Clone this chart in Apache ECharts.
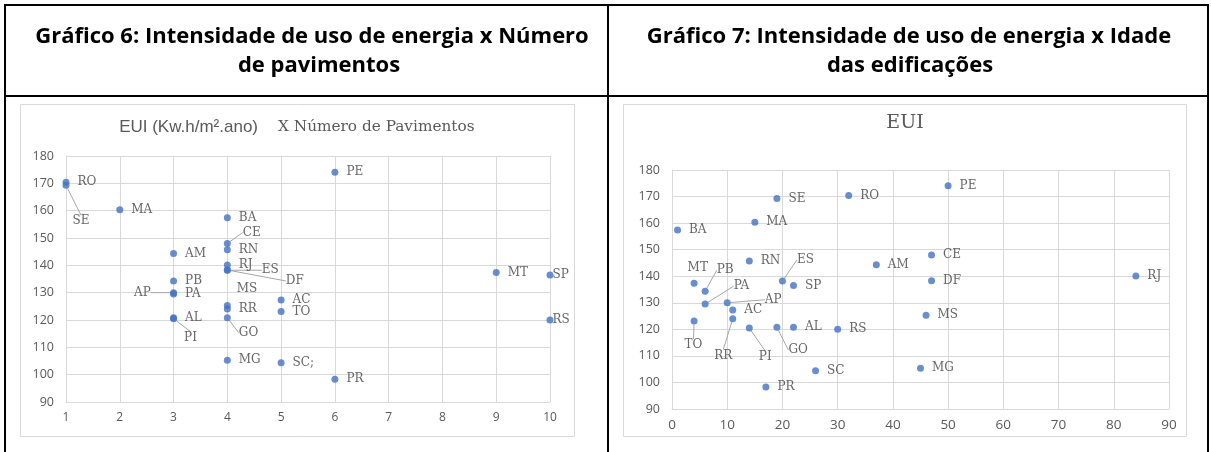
<!DOCTYPE html>
<html><head><meta charset="utf-8">
<script src="https://cdn.jsdelivr.net/npm/echarts@6/dist/echarts.min.js"></script>
<style>html,body{margin:0;padding:0;background:#fff}#c{width:1211px;height:452px}</style>
</head><body><div id="c"></div>
<script>
// ---- data ----
const states     = ['RO','SE','MA','BA','CE','RN','AM','RJ','ES','DF','PB','PA','AP','MS','RR','AC','TO','AL','PI','GO','MG','SC','PE','PR','MT','SP','RS'];
const pavimentos = [1, 1, 2, 4, 4, 4, 3, 4, 4, 4, 3, 3, 3, 4, 4, 5, 5, 3, 3, 4, 4, 5, 6, 6, 9, 10, 10];
const idade      = [32, 19, 15, 1, 47, 14, 37, 84, 20, 47, 6, 6, 10, 46, 11, 11, 4, 22, 14, 19, 45, 26, 50, 17, 4, 22, 30];
const eui        = [170.4, 169.3, 160.3, 157.4, 148, 145.7, 144.3, 140.1, 138.2, 138.3, 134.3, 129.5, 130, 125.3, 124, 127.3, 123.1, 120.8, 120.5, 120.8, 105.3, 104.4, 174.1, 98.3, 137.4, 136.5, 120];
const chart6LabelText = {SC: 'SC;'};
const header6 = ['Gráfico 6: Intensidade de uso de energia x Número', 'de pavimentos'];
const header7 = ['Gráfico 7: Intensidade de uso de energia x Idade', 'das edificações'];
const title6a = 'EUI (Kw.h/m².ano)';
const title6b = 'X Número de Pavimentos';
const title7 = 'EUI';

// ---- label styling (pixel offsets of the labels, leader lines) ----
const off6 = {SE:[-5,36], CE:[4,-11], ES:[23,0], DF:[47,11], AP:[-51,0], MS:[-2,-17], PI:[-1,19], GO:[0,15], SP:[-9,0], RS:[-9,0]};
const lead6 = ['SE','CE','ES','DF','AP','PI','GO'];
const off7 = {ES:[3,-21], MT:[-18,-15], PB:[0,-21], PA:[17,-18], AP:[26,-3], RR:[-30,37], TO:[-21,24], PI:[-2,29], GO:[0,23]};
const lead7 = ['ES','PB','PA','AP','RR','TO','PI','GO'];

const BLUE = '#4472c4', GRID = '#d9d9d9', TXT = '#595959', LBL = '#404040';
const HFONT = 'bold 22px "Open Sans"';

function makeData(xs, leads, textMap) {
  return states.map((s, i) => ({
    value: [xs[i], eui[i]],
    name: (textMap && textMap[s]) || s,
    labelLine: {show: leads.indexOf(s) >= 0}
  }));
}
function layoutFn(offs) {
  return function (p) {
    const o = offs[states[p.dataIndex]];
    return o ? {dx: o[0], dy: o[1]} : {};
  };
}

const axisCommon = {
  axisLine: {show: true, lineStyle: {color: GRID}},
  axisTick: {show: false},
  splitLine: {show: true, lineStyle: {color: GRID, width: 1}}
};

const chart = echarts.init(document.getElementById('c'), null, {renderer: 'canvas'});
const seriesLabel = {show: true, position: 'right', distance: 8, formatter: '{b}',
  fontFamily: 'DejaVu Serif', fontSize: 12, color: LBL};
const seriesLabelLine = {lineStyle: {color: '#a6a6a6', width: 1}};

chart.setOption({
  animation: false,
  graphic: [
    // table borders
    {type: 'rect', shape: {x: 4, y: 4, width: 1205, height: 2}, style: {fill: '#000'}},
    {type: 'rect', shape: {x: 4, y: 95, width: 1205, height: 2}, style: {fill: '#000'}},
    {type: 'rect', shape: {x: 4, y: 4, width: 2, height: 448}, style: {fill: '#000'}},
    {type: 'rect', shape: {x: 607, y: 4, width: 2, height: 448}, style: {fill: '#000'}},
    {type: 'rect', shape: {x: 1207, y: 4, width: 2, height: 448}, style: {fill: '#000'}},
    // chart boxes
    {type: 'rect', shape: {x: 20.5, y: 104.5, width: 554, height: 332}, style: {fill: 'none', stroke: GRID, lineWidth: 1}},
    {type: 'rect', shape: {x: 623.5, y: 104.5, width: 563, height: 332}, style: {fill: 'none', stroke: GRID, lineWidth: 1}},
    // headers
    {type: 'text', x: 312, y: 37, style: {text: header6[0], font: HFONT, fill: '#000', textAlign: 'center', textVerticalAlign: 'middle'}},
    {type: 'text', x: 319, y: 66, style: {text: header6[1], font: HFONT, fill: '#000', textAlign: 'center', textVerticalAlign: 'middle'}},
    {type: 'text', x: 909, y: 37, style: {text: header7[0], font: HFONT, fill: '#000', textAlign: 'center', textVerticalAlign: 'middle'}},
    {type: 'text', x: 910, y: 66, style: {text: header7[1], font: HFONT, fill: '#000', textAlign: 'center', textVerticalAlign: 'middle'}},
    // chart titles
    {type: 'text', x: 258, y: 127, style: {text: title6a, font: '17px "Liberation Sans"', fill: TXT, textAlign: 'right', textVerticalAlign: 'middle'}},
    {type: 'text', x: 278, y: 127, style: {text: title6b, font: '15.3px "DejaVu Serif"', fill: TXT, textAlign: 'left', textVerticalAlign: 'middle'}},
    {type: 'text', x: 905, y: 123, style: {text: title7, font: '19px "DejaVu Serif"', fill: TXT, textAlign: 'center', textVerticalAlign: 'middle'}}
  ],
  grid: [
    {left: 66, top: 156, width: 484, height: 246},
    {left: 672, top: 170, width: 497, height: 239}
  ],
  xAxis: [
    Object.assign({type: 'value', gridIndex: 0, min: 1, max: 10, interval: 1,
      axisLabel: {color: TXT, fontFamily: 'Open Sans', fontSize: 12, margin: 10}}, axisCommon),
    Object.assign({type: 'value', gridIndex: 1, min: 0, max: 90, interval: 10,
      axisLabel: {color: TXT, fontFamily: 'Open Sans', fontSize: 13.5, margin: 9}}, axisCommon)
  ],
  yAxis: [
    Object.assign({type: 'value', gridIndex: 0, min: 90, max: 180, interval: 10,
      axisLabel: {color: TXT, fontFamily: 'Open Sans', fontSize: 12.5, margin: 12}}, axisCommon),
    Object.assign({type: 'value', gridIndex: 1, min: 90, max: 180, interval: 10,
      axisLabel: {color: TXT, fontFamily: 'Open Sans', fontSize: 12.5, margin: 12}}, axisCommon)
  ],
  series: [
    {type: 'scatter', xAxisIndex: 0, yAxisIndex: 0, symbolSize: 7, itemStyle: {color: BLUE},
      data: makeData(pavimentos, lead6, chart6LabelText), label: seriesLabel, labelLine: seriesLabelLine,
      labelLayout: layoutFn(off6)},
    {type: 'scatter', xAxisIndex: 1, yAxisIndex: 1, symbolSize: 7, itemStyle: {color: BLUE},
      data: makeData(idade, lead7, null), label: seriesLabel, labelLine: seriesLabelLine,
      labelLayout: layoutFn(off7)}
  ]
});
</script></body></html>
